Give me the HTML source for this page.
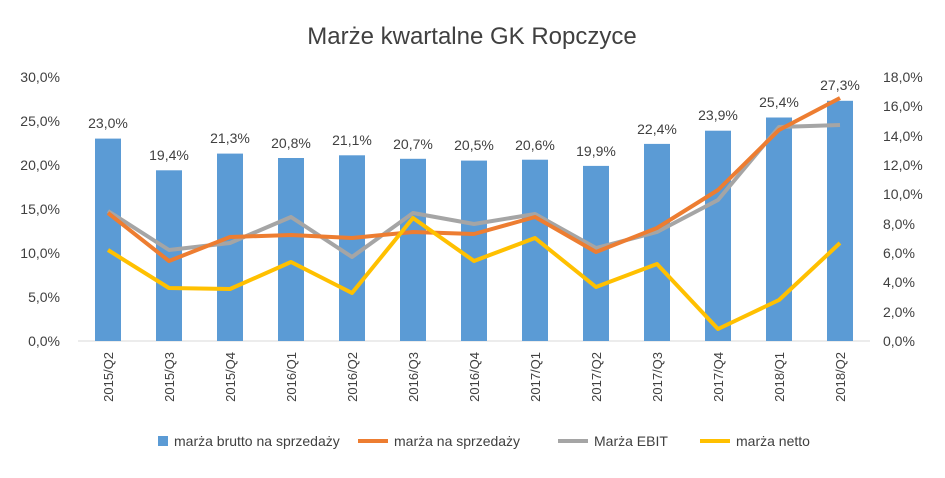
<!DOCTYPE html>
<html><head><meta charset="utf-8"><style>
body{margin:0;background:#fff;}
svg text{font-family:"Liberation Sans",sans-serif;fill:#404040;}
</style></head><body>
<svg width="945" height="473" xmlns="http://www.w3.org/2000/svg">
<rect width="945" height="473" fill="#fff"/>
<text x="472" y="44" text-anchor="middle" font-size="24" fill="#595959">Marże kwartalne GK Ropczyce</text>
<g font-size="14" text-anchor="end">
<text x="60" y="346">0,0%</text><text x="60" y="302">5,0%</text><text x="60" y="258">10,0%</text>
<text x="60" y="214">15,0%</text><text x="60" y="170">20,0%</text><text x="60" y="126">25,0%</text><text x="60" y="82">30,0%</text>
</g>
<g font-size="14" text-anchor="start">
<text x="883" y="346">0,0%</text><text x="883" y="317">2,0%</text><text x="883" y="287">4,0%</text>
<text x="883" y="258">6,0%</text><text x="883" y="229">8,0%</text><text x="883" y="199">10,0%</text>
<text x="883" y="170">12,0%</text><text x="883" y="141">14,0%</text><text x="883" y="111">16,0%</text><text x="883" y="82">18,0%</text>
</g>
<line x1="78" y1="341" x2="870" y2="341" stroke="#d9d9d9"/>
<g fill="#5b9bd5">
<rect x="95" y="138.6" width="26" height="202.4"/>
<rect x="156" y="170.3" width="26" height="170.7"/>
<rect x="217" y="153.6" width="26" height="187.4"/>
<rect x="278" y="158" width="26" height="183"/>
<rect x="339" y="155.3" width="26" height="185.7"/>
<rect x="400" y="158.8" width="26" height="182.2"/>
<rect x="461" y="160.6" width="26" height="180.4"/>
<rect x="522" y="159.7" width="26" height="181.3"/>
<rect x="583" y="165.9" width="26" height="175.1"/>
<rect x="644" y="143.9" width="26" height="197.1"/>
<rect x="705" y="130.7" width="26" height="210.3"/>
<rect x="766" y="117.5" width="26" height="223.5"/>
<rect x="827" y="100.8" width="26" height="240.2"/>
</g>
<g font-size="14" text-anchor="middle">
<text x="108" y="128">23,0%</text>
<text x="169" y="160">19,4%</text>
<text x="230" y="143">21,3%</text>
<text x="291" y="148">20,8%</text>
<text x="352" y="145">21,1%</text>
<text x="413" y="149">20,7%</text>
<text x="474" y="150">20,5%</text>
<text x="535" y="150">20,6%</text>
<text x="596" y="156">19,9%</text>
<text x="657" y="134">22,4%</text>
<text x="718" y="120">23,9%</text>
<text x="779" y="107">25,4%</text>
<text x="840" y="90">27,3%</text>
</g>
<g font-size="13" text-anchor="end">
<text transform="translate(113,352) rotate(-90)">2015/Q2</text>
<text transform="translate(174,352) rotate(-90)">2015/Q3</text>
<text transform="translate(235,352) rotate(-90)">2015/Q4</text>
<text transform="translate(296,352) rotate(-90)">2016/Q1</text>
<text transform="translate(357,352) rotate(-90)">2016/Q2</text>
<text transform="translate(418,352) rotate(-90)">2016/Q3</text>
<text transform="translate(479,352) rotate(-90)">2016/Q4</text>
<text transform="translate(540,352) rotate(-90)">2017/Q1</text>
<text transform="translate(601,352) rotate(-90)">2017/Q2</text>
<text transform="translate(662,352) rotate(-90)">2017/Q3</text>
<text transform="translate(723,352) rotate(-90)">2017/Q4</text>
<text transform="translate(784,352) rotate(-90)">2018/Q1</text>
<text transform="translate(845,352) rotate(-90)">2018/Q2</text>
</g>
<polyline fill="none" stroke="#a5a5a5" stroke-width="4" stroke-linejoin="round" points="108,211 169,250 230,243 291,217 352,257 413,213 474,224 535,214 596,248 657,232 718,200 779,127 840,125"/>
<polyline fill="none" stroke="#ed7d31" stroke-width="4" stroke-linejoin="round" points="108,213 169,261 230,237 291,235 352,238 413,232 474,234 535,217 596,252 657,228 718,190 779,130 840,98"/>
<polyline fill="none" stroke="#ffc000" stroke-width="4" stroke-linejoin="round" points="108,250 169,288 230,289 291,262 352,293 413,218 474,261 535,238 596,287 657,264 718,329 779,300 840,243"/>
<g font-size="14">
<rect x="158" y="436" width="10" height="10" fill="#5b9bd5"/><text x="174" y="446">marża brutto na sprzedaży</text>
<line x1="358" y1="441" x2="388" y2="441" stroke="#ed7d31" stroke-width="4"/><text x="394" y="446">marża na sprzedaży</text>
<line x1="558" y1="441" x2="588" y2="441" stroke="#a5a5a5" stroke-width="4"/><text x="594" y="446">Marża EBIT</text>
<line x1="700" y1="441" x2="730" y2="441" stroke="#ffc000" stroke-width="4"/><text x="736" y="446">marża netto</text>
</g>
</svg>
</body></html>
